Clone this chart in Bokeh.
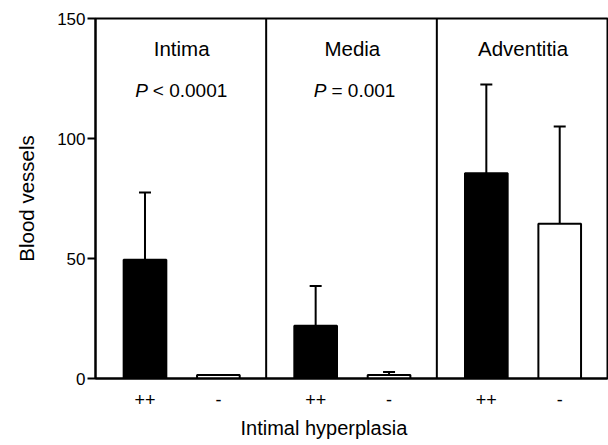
from bokeh.plotting import figure
from bokeh.models import ColumnDataSource, Span, Whisker, TeeHead, FixedTicker, Title
from bokeh.core.properties import value
from bokeh.embed import file_html
from bokeh.resources import INLINE

# ---- data ----
layers = ["Intima", "Media", "Adventitia"]
levels = ["++", "-"]
p_texts = ["< 0.0001", "= 0.001", None]
means = [49.5, 1.5, 22.0, 1.5, 85.5, 64.5]
upper = [77.5, 1.5, 38.5, 2.7, 122.5, 105.0]
y_ticks = [0, 50, 100, 150]

FONT = "Liberation Sans"
level_offset = {"++": 0.29, "-": 0.72}
level_fill = {"++": "black", "-": "white"}

xs, fills = [], []
for gi, g in enumerate(layers):
    for lv in levels:
        xs.append(gi + level_offset[lv])
        fills.append(level_fill[lv])

src = ColumnDataSource(dict(x=xs, top=means, upper=upper, fill=fills))

p = figure(width=608, height=445, x_range=(0, 3), y_range=(0, 150),
           output_backend="svg", toolbar_location=None,
           min_border_left=95, min_border_right=1, min_border_top=18, min_border_bottom=67)
p.grid.visible = False
p.outline_line_color = "black"
p.outline_line_width = 2
p.background_fill_color = "white"
p.border_fill_color = "white"

p.vbar(x="x", top="top", width=0.25, bottom=0, source=src,
       fill_color="fill", line_color="black", line_width=2)

w = Whisker(source=src, base="x", lower="top", upper="upper",
            line_color="black", line_width=2,
            upper_head=TeeHead(size=12, line_color="black", line_width=2),
            lower_head=None, level="underlay")
p.add_layout(w)

for loc in range(1, len(layers)):
    p.add_layout(Span(location=loc, dimension="height", line_color="black", line_width=2))

# group titles
for gi, g in enumerate(layers):
    p.text(x=[gi + 0.505], y=[137.3], text=[g], text_font=value(FONT),
           text_font_size="20.5px", text_align="center", text_baseline="middle",
           text_color="black")
    if p_texts[gi]:
        xoff = -33 if gi == 0 else -25
        p.text(x=[gi + 0.5], y=[120], text=["P"], text_font=value(FONT),
               text_font_size="19px", text_font_style="italic", text_align="right",
               text_baseline="middle", x_offset=xoff, text_color="black")
        p.text(x=[gi + 0.5], y=[120], text=[p_texts[gi]], text_font=value(FONT),
               text_font_size="19px", text_align="left",
               text_baseline="middle", x_offset=xoff + 5, text_color="black")

# y axis
ya = p.yaxis[0]
ya.ticker = FixedTicker(ticks=y_ticks)
ya.axis_label = "Blood vessels"
ya.axis_label_text_font = FONT
ya.axis_label_text_font_size = "20.5px"
ya.axis_label_text_font_style = "normal"
ya.axis_label_text_color = "black"
ya.axis_label_standoff = 16
ya.major_label_text_font = FONT
ya.major_label_text_font_size = "17px"
ya.major_label_text_color = "black"
ya.major_label_standoff = 2
ya.major_tick_out = 8
ya.major_tick_in = 0
ya.major_tick_line_width = 2
ya.minor_tick_line_color = None
ya.axis_line_width = 2
ya.axis_line_color = "black"

# x axis
xa = p.xaxis[0]
xa.ticker = FixedTicker(ticks=xs)
xa.major_label_overrides = {x: lv for x, lv in zip(xs, levels * len(layers))}
xa.major_label_text_font = FONT
xa.major_label_text_font_size = "18px"
xa.major_label_text_color = "black"
xa.major_label_standoff = 8
xa.major_tick_line_color = None
xa.minor_tick_line_color = None
xa.axis_line_width = 2
xa.axis_line_color = "black"

p.add_layout(Title(text="Intimal hyperplasia", align="left", offset=145,
                   text_font=FONT, text_font_size="20px", text_font_style="normal",
                   text_color="black", standoff=12), "below")

open("out.html", "w").write(file_html(p, INLINE))
